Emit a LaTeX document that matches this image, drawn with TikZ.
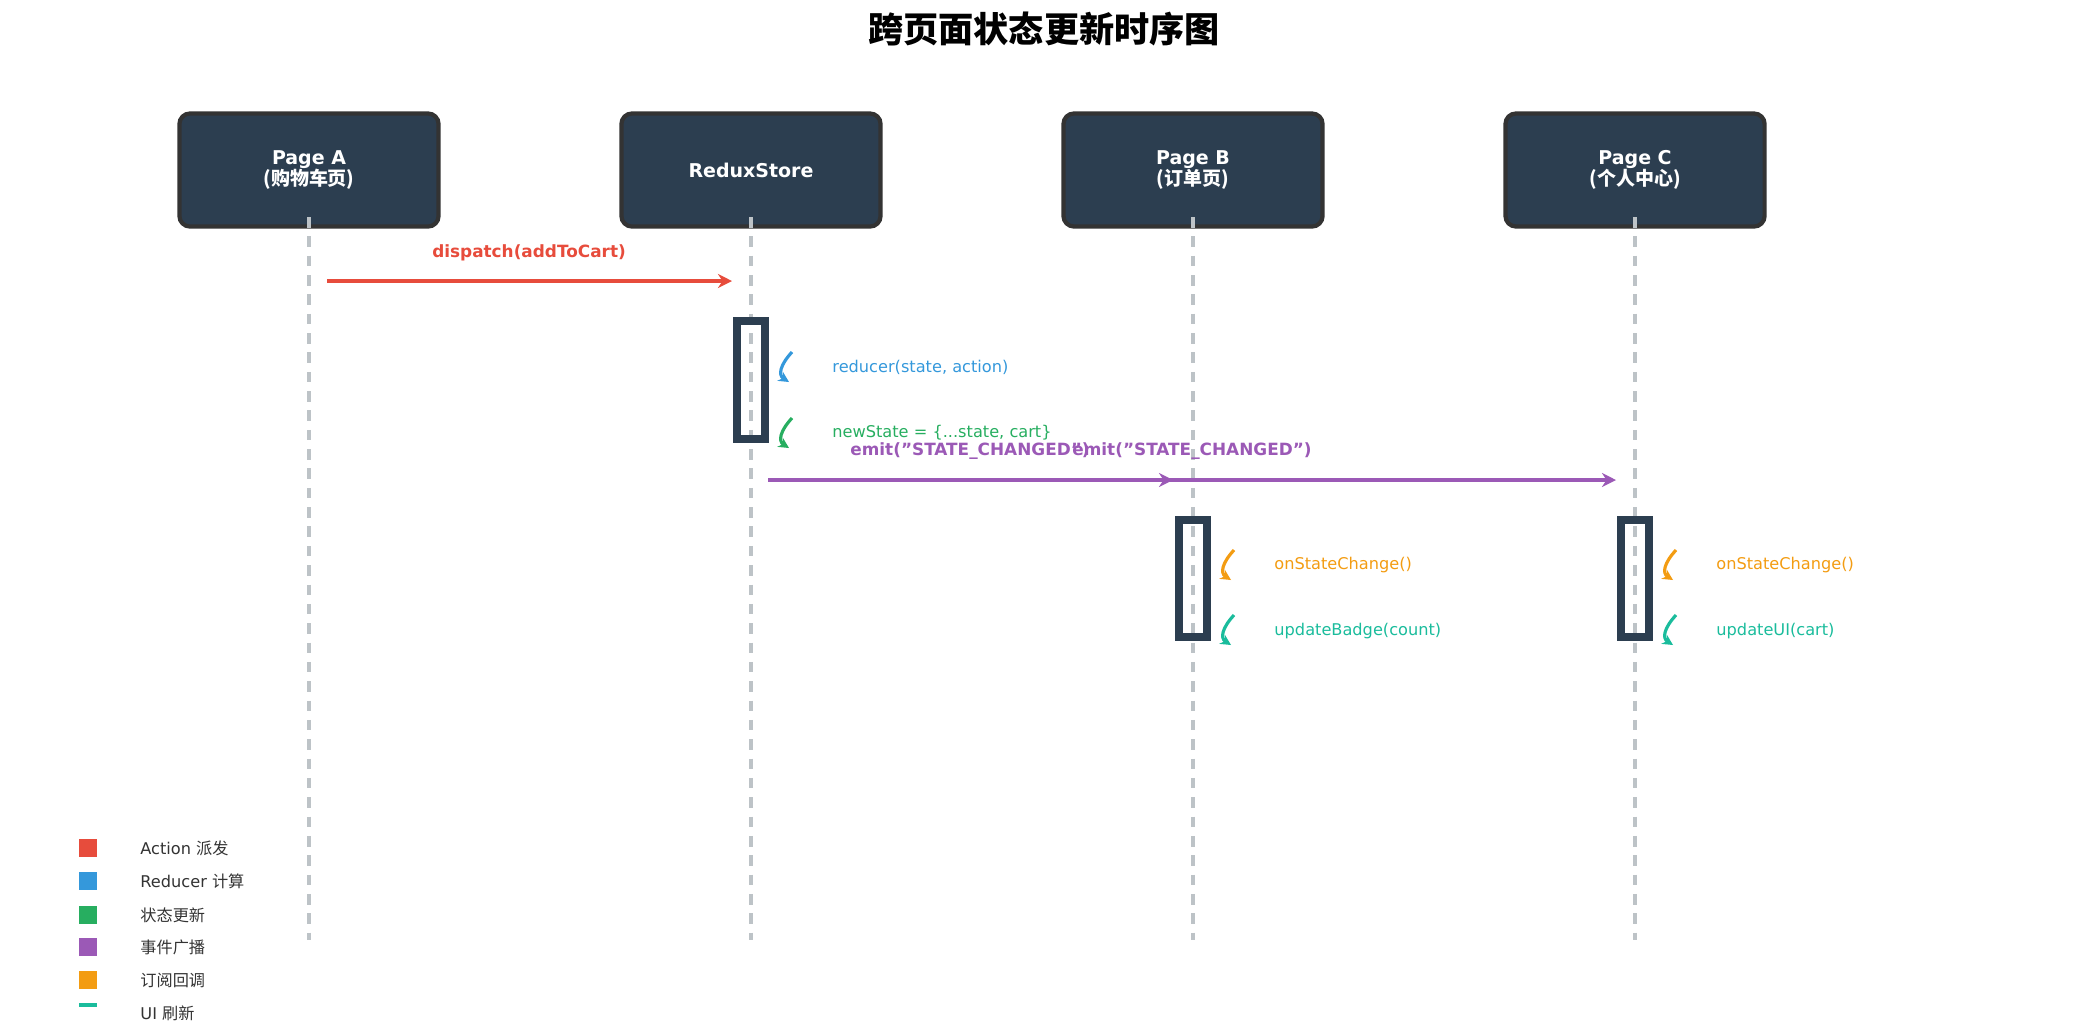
\documentclass[tikz,border=0pt]{standalone}
\usepackage{fontspec}
\setmainfont{DejaVu Sans}
\newfontfamily\cjk{Noto Sans CJK SC}
\usetikzlibrary{arrows.meta, positioning, calc}
\definecolor{navy}{RGB}{44, 62, 80}
\definecolor{lifegray}{RGB}{189, 195, 199}
\definecolor{actred}{RGB}{231, 76, 60}
\definecolor{redblue}{RGB}{52, 152, 219}
\definecolor{stgreen}{RGB}{39, 174, 96}
\definecolor{evpurple}{RGB}{155, 89, 182}
\definecolor{suborange}{RGB}{243, 156, 18}
\definecolor{uiteal}{RGB}{26, 188, 156}
\tikzset{
  actor/.style={draw=black!80, fill=navy, rounded corners=3pt, line width=1.2pt,
    minimum width=2.59cm, minimum height=1.13cm, text=white, align=center,
    font=\fontsize{5.4}{6}\selectfont\bfseries},
  life/.style={lifegray, line width=0.9pt, dash pattern=on 3pt off 2.5pt},
  msg/.style={-{Stealth[length=4pt,width=4pt]}, line width=0.9pt},
  msglabel/.style={font=\fontsize{4.8}{5}\selectfont\bfseries},
  note/.style={anchor=west, font=\fontsize{4.6}{5}\selectfont},
  activ/.style={draw=navy, line width=2.2pt},
  self/.style={-{Stealth[length=3pt,width=3pt]}, line width=0.9pt},
  legbox/.style={minimum size=0.18cm, inner sep=0pt},
  legtext/.style={anchor=west, font=\fontsize{4.6}{5}\selectfont, text=black!80}
}
\begin{document}
\begin{tikzpicture}[x=0.01cm, y=-0.01cm]
  \useasboundingbox (0,0) rectangle (2080,1032);

  % Title
  \node[font=\cjk\fontsize{10}{12}\selectfont\bfseries] (title) at (1044,29) {跨页面状态更新时序图};

  % Actors and lifelines
  \node[actor] (pa) at (309,170) {Page A\\{\cjk(购物车页)}};
  \node[actor] (rs) at (751,170) {ReduxStore};
  \node[actor] (pb) at (1193,170) {Page B\\{\cjk(订单页)}};
  \node[actor] (pc) at (1635,170) {Page C\\{\cjk(个人中心)}};
  \foreach \n/\x in {pa/309, rs/751, pb/1193, pc/1635} {
    \coordinate (\n top) at (\x,217);
    \coordinate (\n end) at (\x,940);
    \draw[life] (\n top) -- (\n end);
  }

  % Dispatch
  \coordinate (d1) at (327,281);
  \coordinate (d2) at (732,281);
  \draw[msg, actred] (d1) -- (d2);
  \node[msglabel, actred] (dlab) at (529,253) {dispatch(addToCart)};

  % Reducer activation
  \draw[activ] (737,321) rectangle (765,439);
  \draw[self, redblue] (792,352) .. controls (780,365) and (778,375) .. (789,382);
  \node[note, redblue] (red) at (820,367) {reducer(state, action)};
  \draw[self, stgreen] (792,418) .. controls (780,431) and (778,441) .. (789,448);
  \node[note, stgreen] (nst) at (820,433) {newState = \{...state, cart\}};

  % Broadcast
  \coordinate (e0) at (768,480);
  \coordinate (e1) at (1173,480);
  \coordinate (e2) at (1616,480);
  \draw[msg, evpurple] (e0) -- (e1);
  \draw[msg, evpurple] (e0) -- (e2);
  \node[msglabel, evpurple] (el1) at (970,451) {emit("STATE\_CHANGED")};
  \node[msglabel, evpurple] (el2) at (1192,451) {emit("STATE\_CHANGED")};

  % Subscribers
  \foreach \n/\x/\txt in {pb/1193/updateBadge(count), pc/1635/updateUI(cart)} {
    \draw[activ] (\x-14,520) rectangle (\x+14,637);
    \draw[self, suborange] (\x+41,550) .. controls (\x+29,563) and (\x+27,573) .. (\x+38,580);
    \node[note, suborange] (\n cb) at (\x+69,565) {onStateChange()};
    \draw[self, uiteal] (\x+41,615) .. controls (\x+29,628) and (\x+27,638) .. (\x+38,645);
    \node[note, uiteal] (\n ui) at (\x+69,631) {\txt};
  }

  % Legend
  \foreach \c/\y/\t [count=\i] in {actred/848/Action {\cjk 派发}, redblue/881/Reducer {\cjk 计算},
      stgreen/915/{\cjk 状态更新}, evpurple/947/{\cjk 事件广播}, suborange/980/{\cjk 订阅回调}} {
    \node[legbox, fill=\c] (lb\i) at (88,\y) {};
    \node[legtext] (lt\i) at (128,\y) {\t};
  }
  \draw[uiteal, line width=1pt] (79,1005) -- (97,1005);
  \node[legtext] (lt6) at (128,1013) {UI {\cjk 刷新}};
\end{tikzpicture}
\end{document}
